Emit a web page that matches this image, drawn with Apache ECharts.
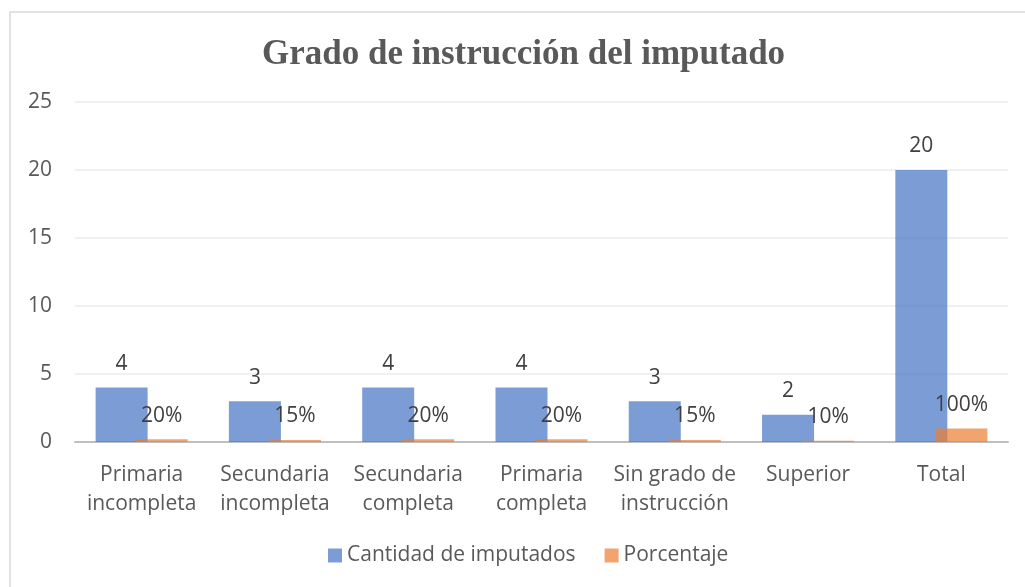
<!DOCTYPE html>
<html><head><meta charset="utf-8">
<script src="https://cdn.jsdelivr.net/npm/echarts@6/dist/echarts.min.js"></script>
<style>html,body{margin:0;padding:0;background:#fff}#c{width:1025px;height:587px}</style>
</head><body><div id="c"></div>
<script>
const categories = ['Primaria\nincompleta','Secundaria\nincompleta','Secundaria\ncompleta','Primaria\ncompleta','Sin grado de\ninstrucción','Superior','Total'];
const cantidad = [4,3,4,4,3,2,20];
const porcentaje = [0.20,0.15,0.20,0.20,0.15,0.10,1.00];
const yTicks = [0,5,10,15,20,25];

const font = '"Open Sans", Lato, sans-serif';
const chart = echarts.init(document.getElementById('c'));
chart.setOption({
  animation:false,
  backgroundColor:'#fff',
  title:{text:'Grado de instrucción del imputado',left:257,top:32,
    textStyle:{fontFamily:'"Liberation Serif", serif',fontWeight:'bold',fontSize:35,color:'#595959'}},
  graphic:[{type:'rect',shape:{x:10,y:12,width:1030,height:620},style:{fill:'none',stroke:'#d9d9d9',lineWidth:1.5},silent:true}],
  legend:{bottom:16,left:323,itemWidth:14,itemHeight:14,itemGap:29,icon:'rect',
    textStyle:{fontFamily:font,fontSize:21,color:'#595959'},
    data:['Cantidad de imputados','Porcentaje']},
  grid:{left:75,right:17,top:102,bottom:145},
  xAxis:{type:'category',data:categories,
    axisLine:{lineStyle:{color:'#bfbfbf',width:2}},axisTick:{show:false},
    axisLabel:{fontFamily:font,fontSize:21,color:'#595959',lineHeight:29,margin:19,interval:0}},
  yAxis:{type:'value',min:0,max:25,interval:5,
    axisLine:{show:false},axisTick:{show:false},
    splitLine:{lineStyle:{color:'#ebebeb',width:1.5}},
    axisLabel:{fontFamily:font,fontSize:21,color:'#595959',margin:23}},
  series:[
    {name:'Cantidad de imputados',type:'bar',data:cantidad,barWidth:52,barGap:'-23%',
     itemStyle:{color:'rgba(68,114,196,0.7)'},
     label:{show:true,position:'top',distance:13,fontFamily:font,fontSize:21,color:'#404040'}},
    {name:'Porcentaje',type:'bar',data:porcentaje,barWidth:52,
     itemStyle:{color:'rgba(237,125,49,0.7)'},
     label:{show:true,position:'top',distance:13,fontFamily:font,fontSize:21,color:'#404040',
       formatter:p=>Math.round(p.value*100)+'%'}}
  ]
});
</script></body></html>
